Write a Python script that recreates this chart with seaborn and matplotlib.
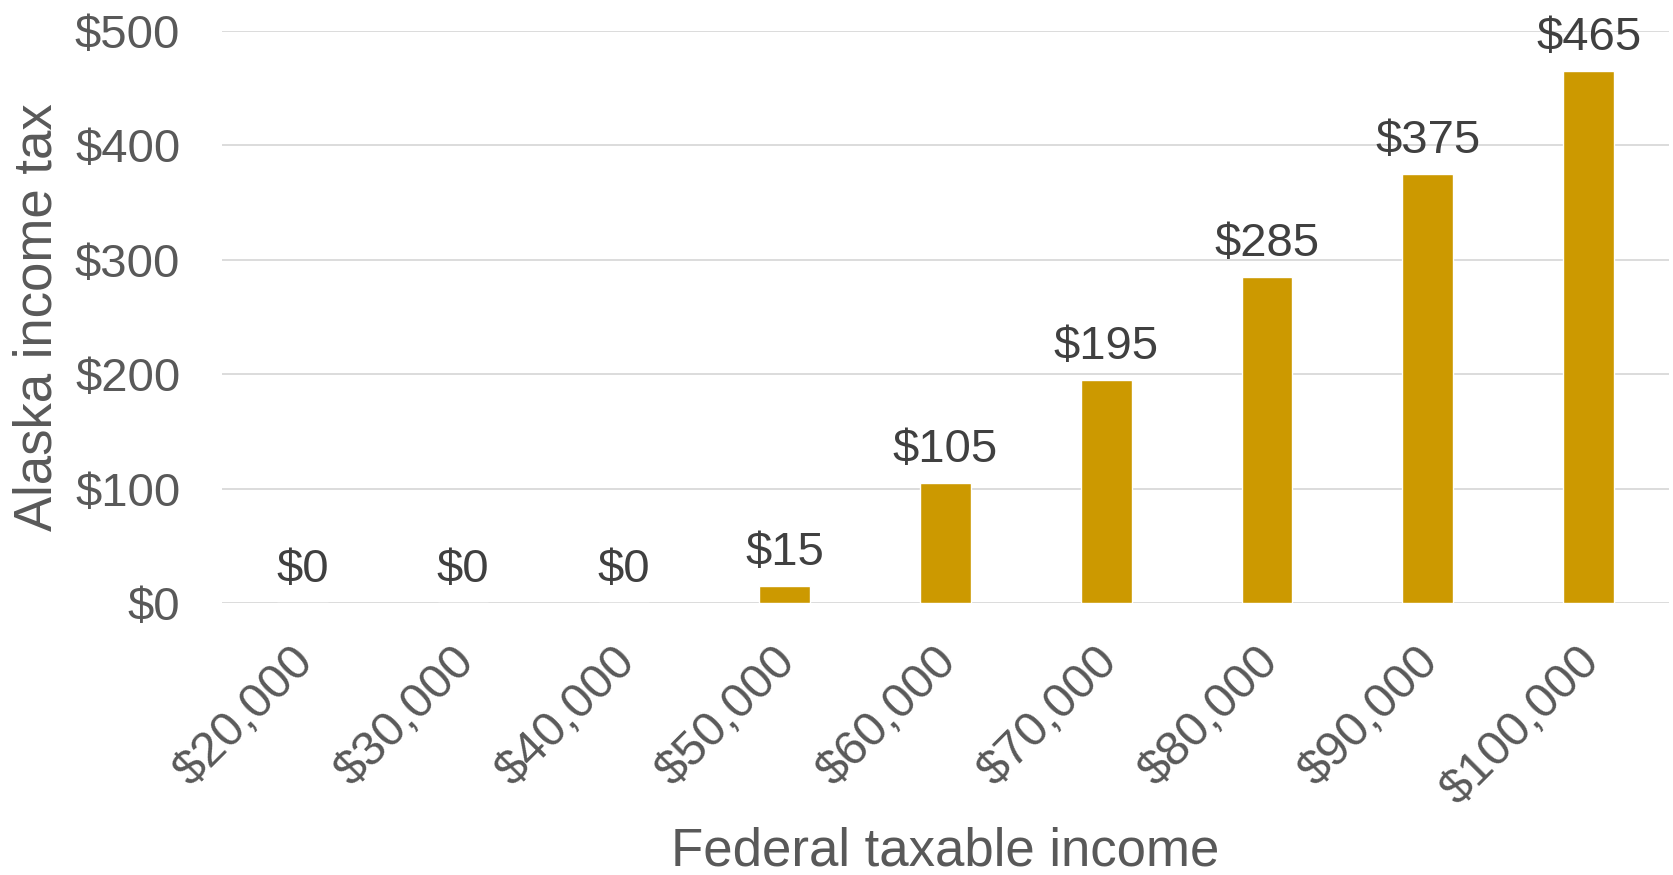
import matplotlib
matplotlib.use("Agg")
import matplotlib.pyplot as plt
import matplotlib.transforms as mtransforms
import seaborn as sns
import pandas as pd

# data
incomes = ["$20,000", "$30,000", "$40,000", "$50,000", "$60,000",
           "$70,000", "$80,000", "$90,000", "$100,000"]
tax = [0, 0, 0, 15, 105, 195, 285, 375, 465]
y_ticks = [0, 100, 200, 300, 400, 500]

bar_color = "#CC9900"
tick_gray = "#595959"
label_dark = "#404040"
grid_gray = "#D9D9D9"

sns.set_theme(style="white")
plt.rcParams["font.family"] = ["Liberation Sans", "DejaVu Sans"]

df = pd.DataFrame({"income": incomes, "tax": tax})

fig = plt.figure(figsize=(16.73, 8.75), dpi=100)
ax = fig.add_axes([0.1327, 0.3109, 0.8649, 0.6537])

sns.barplot(data=df, x="income", y="tax", order=incomes, color=bar_color,
            saturation=1, width=0.315, ax=ax, zorder=3)

ax.set_xlim(-0.5, len(incomes) - 0.5)
ax.set_ylim(0, 500)
ax.set_yticks(y_ticks)
ax.set_yticklabels([f"${v}" for v in y_ticks])

ax.yaxis.grid(True, color=grid_gray, linewidth=1.3, zorder=0)
ax.set_axisbelow(True)
for s in ax.spines.values():
    s.set_visible(False)

ax.tick_params(axis="y", length=0, pad=30, labelsize=34, labelcolor=tick_gray)
ax.tick_params(axis="x", length=0, pad=26, labelsize=35, labelcolor=tick_gray)
shift = mtransforms.ScaledTranslation(0.2, 0, fig.dpi_scale_trans)
for lab in ax.get_xticklabels():
    lab.set_rotation(45)
    lab.set_ha("right")
    lab.set_va("top")
    lab.set_transform(lab.get_transform() + shift)

# value labels above bars
ax.bar_label(ax.containers[0], labels=[f"${v}" for v in tax], padding=8,
             fontsize=34, color=label_dark)

ax.set_xlabel("Federal taxable income", fontsize=38, color=tick_gray)
ax.set_ylabel("Alaska income tax", fontsize=38, color=tick_gray)
ax.xaxis.set_label_coords(0.5, -0.39)
ax.yaxis.set_label_coords(-0.11, 0.5)

fig.savefig("out.png", dpi=100)
